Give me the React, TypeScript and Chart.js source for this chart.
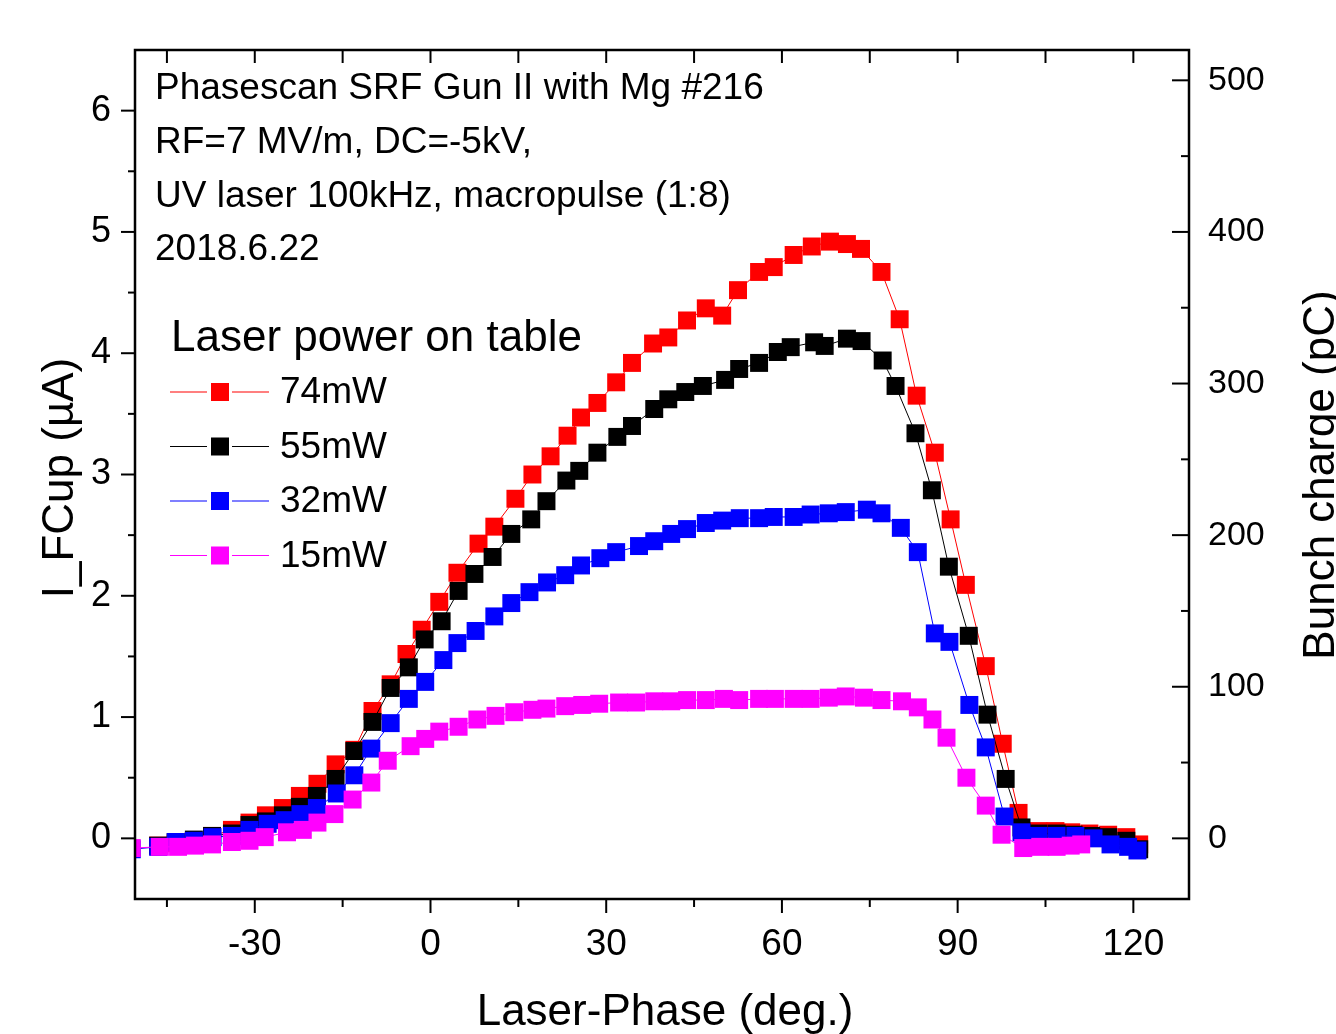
import React, { useEffect, useRef } from 'react';
import { Chart, registerables } from 'chart.js';
Chart.register(...registerables);

// ---- data (Laser phase in deg, I_FCup in µA) ----
const PHASE_74 = [-46.5,-43.5,-40.4,-37.3,-33.9,-30.9,-28.1,-25.2,-22.3,-19.3,-16.2,-13.0,-9.9,-6.8,-4.1,-1.5,1.5,4.6,8.2,10.9,14.5,17.4,20.5,23.4,25.7,28.5,31.7,34.4,38.0,40.6,43.8,47.0,49.8,52.5,56.1,58.6,62.0,65.1,68.2,71.1,73.5,77.0,80.1,83.0,86.1,88.8,91.4,94.8,97.7,100.4,103.8,106.7,109.4,112.5,115.7,118.8,121.0];
const CURRENT_74 = [-0.06,-0.04,-0.02,0.02,0.07,0.13,0.19,0.25,0.35,0.45,0.61,0.73,1.05,1.27,1.52,1.72,1.95,2.19,2.43,2.57,2.80,3.00,3.15,3.32,3.47,3.59,3.76,3.92,4.08,4.13,4.27,4.37,4.31,4.52,4.67,4.71,4.81,4.88,4.92,4.90,4.86,4.67,4.28,3.65,3.18,2.63,2.09,1.42,0.78,0.21,0.06,0.06,0.05,0.04,0.03,0.01,-0.05];

const PHASE_55 = [-46.5,-43.5,-40.4,-37.3,-33.9,-30.9,-28.1,-25.2,-22.3,-19.4,-16.2,-13.0,-9.9,-6.8,-3.7,-1.0,1.9,4.8,7.5,10.6,13.8,17.2,19.8,23.2,25.4,28.5,31.9,34.4,38.2,40.6,43.5,46.5,50.3,52.7,56.1,59.3,61.5,65.5,67.3,71.1,73.6,77.2,79.4,82.8,85.6,88.5,91.9,95.1,98.2,100.9,103.8,106.9,109.8,112.8,115.7,118.8,121.0];
const CURRENT_55 = [-0.06,-0.03,-0.01,0.02,0.04,0.11,0.14,0.19,0.26,0.35,0.49,0.72,0.96,1.24,1.41,1.64,1.79,2.04,2.18,2.32,2.51,2.63,2.78,2.95,3.03,3.18,3.31,3.40,3.54,3.62,3.68,3.73,3.78,3.87,3.92,4.01,4.05,4.09,4.06,4.12,4.10,3.94,3.73,3.34,2.87,2.24,1.67,1.02,0.49,0.09,0.04,0.04,0.03,0.02,0.01,-0.02,-0.09];

const PHASE_32 = [-51.0,-46.5,-43.5,-40.4,-37.2,-33.9,-30.9,-27.8,-24.9,-22.2,-19.4,-16.0,-13.0,-10.1,-6.8,-3.7,-0.9,2.2,4.6,7.7,10.9,13.8,16.9,19.9,23.0,25.7,29.0,31.7,35.6,38.2,41.1,43.8,47.0,49.8,52.8,56.1,58.6,62.0,64.9,68.0,70.9,74.5,77.0,80.3,83.2,86.1,88.6,92.0,94.8,98.0,100.9,103.8,106.9,110.1,113.2,116.1,119.1,120.7];
const CURRENT_32 = [-0.09,-0.07,-0.03,-0.02,0.01,0.02,0.07,0.12,0.15,0.20,0.25,0.37,0.52,0.74,0.95,1.15,1.29,1.47,1.61,1.71,1.83,1.94,2.03,2.11,2.17,2.25,2.31,2.36,2.41,2.45,2.51,2.55,2.60,2.62,2.64,2.64,2.65,2.65,2.67,2.68,2.69,2.71,2.68,2.56,2.36,1.69,1.62,1.10,0.75,0.18,0.05,0.02,0.02,0.02,0.00,-0.05,-0.07,-0.10];

const PHASE_15 = [-51.0,-46.2,-43.1,-40.2,-37.3,-33.9,-30.9,-28.3,-24.5,-21.8,-19.3,-16.4,-13.3,-10.1,-7.3,-3.4,-0.9,1.5,4.8,8.0,11.1,14.3,17.4,19.8,23.0,25.9,28.8,32.2,35.1,38.2,41.1,43.8,47.0,50.1,52.7,56.1,58.8,62.0,64.9,68.0,70.9,74.0,77.0,80.5,83.2,85.7,88.1,91.5,94.8,97.5,101.2,104.1,106.9,109.3,111.1];
const CURRENT_15 = [-0.08,-0.07,-0.07,-0.06,-0.05,-0.03,-0.02,0.01,0.05,0.07,0.13,0.20,0.32,0.46,0.64,0.76,0.82,0.88,0.92,0.98,1.01,1.04,1.06,1.07,1.09,1.10,1.11,1.12,1.12,1.13,1.13,1.14,1.14,1.15,1.14,1.15,1.15,1.15,1.15,1.16,1.17,1.16,1.14,1.13,1.08,0.98,0.83,0.50,0.27,0.03,-0.08,-0.07,-0.07,-0.06,-0.05];

const SERIES_LABELS = ['74mW', '55mW', '32mW', '15mW'];
const SERIES_COLORS = ['#ff0000', '#000000', '#0000ff', '#ff00ff'];

// ---- axis ticks ----
const X_MAJOR = [-30, 0, 30, 60, 90, 120];
const X_MINOR = [-45, -15, 15, 45, 75, 105];
const Y_MAJOR = [0, 1, 2, 3, 4, 5, 6];
const Y_MINOR = [0.5, 1.5, 2.5, 3.5, 4.5, 5.5];
const Y2_MAJOR = [0, 100, 200, 300, 400, 500];
const Y2_MINOR = [50, 150, 250, 350, 450];

const INFO_LINES = [
  'Phasescan SRF Gun II with Mg #216',
  'RF=7 MV/m, DC=-5kV,',
  'UV laser 100kHz, macropulse (1:8)',
  '2018.6.22',
];
const LEGEND_TITLE = 'Laser power on table';
const X_TITLE = 'Laser-Phase (deg.)';
const Y_TITLE = 'I_FCup (\u00b5A)';
const Y2_TITLE = 'Bunch charge (pC)';

const FONT = '"Liberation Sans", Arial, Helvetica, sans-serif';

const zip = (xs: number[], ys: number[]) => xs.map((x, i) => ({ x, y: ys[i] }));

const originAxes = {
  id: 'originAxes',
  afterDraw(chart: any) {
    const { ctx, chartArea: a, scales } = chart;
    const sx = scales.x, sy = scales.y, sy2 = scales.y2;
    ctx.save();
    ctx.strokeStyle = '#000';
    ctx.fillStyle = '#000';

    // frame
    ctx.lineWidth = 2.5;
    ctx.strokeRect(a.left, a.top, a.right - a.left, a.bottom - a.top);

    ctx.lineWidth = 2;
    const line = (x1: number, y1: number, x2: number, y2: number) => {
      ctx.beginPath(); ctx.moveTo(x1, y1); ctx.lineTo(x2, y2); ctx.stroke();
    };
    // bottom (outward) & top (inward)
    X_MAJOR.forEach(v => { const p = sx.getPixelForValue(v); line(p, a.bottom, p, a.bottom + 14); line(p, a.top, p, a.top + 13); });
    X_MINOR.forEach(v => { const p = sx.getPixelForValue(v); line(p, a.bottom, p, a.bottom + 8); line(p, a.top, p, a.top + 13); });
    // left (outward)
    Y_MAJOR.forEach(v => { const p = sy.getPixelForValue(v); line(a.left - 14, p, a.left, p); });
    Y_MINOR.forEach(v => { const p = sy.getPixelForValue(v); line(a.left - 7, p, a.left, p); });
    // right (inward)
    Y2_MAJOR.forEach(v => { const p = sy2.getPixelForValue(v); line(a.right - 17, p, a.right, p); });
    Y2_MINOR.forEach(v => { const p = sy2.getPixelForValue(v); line(a.right - 8, p, a.right, p); });

    // tick labels
    ctx.font = `37px ${FONT}`;
    ctx.textAlign = 'center'; ctx.textBaseline = 'middle';
    X_MAJOR.forEach(v => ctx.fillText(String(v), sx.getPixelForValue(v), a.bottom + 46));
    ctx.font = `36px ${FONT}`;
    ctx.textAlign = 'right';
    Y_MAJOR.forEach(v => ctx.fillText(String(v), a.left - 24, sy.getPixelForValue(v)));
    ctx.font = `34px ${FONT}`;
    ctx.textAlign = 'left';
    Y2_MAJOR.forEach(v => ctx.fillText(String(v), a.right + 19, sy2.getPixelForValue(v)));

    // axis titles
    ctx.font = `44px ${FONT}`;
    ctx.textAlign = 'center'; ctx.textBaseline = 'alphabetic';
    ctx.fillText(X_TITLE, 665, 1025);
    ctx.save();
    ctx.translate(73, 478);
    ctx.rotate(-Math.PI / 2);
    ctx.fillText(Y_TITLE, 0, 0);
    ctx.restore();
    ctx.save();
    ctx.translate(1334, 475);
    ctx.rotate(-Math.PI / 2);
    ctx.fillText(Y2_TITLE, 0, 0);
    ctx.restore();

    // info text
    ctx.font = `37px ${FONT}`;
    ctx.textAlign = 'left'; ctx.textBaseline = 'middle';
    INFO_LINES.forEach((t, i) => ctx.fillText(t, 155, 89 + i * 53.7));

    // legend
    ctx.font = `44px ${FONT}`;
    ctx.fillText(LEGEND_TITLE, 171, 339);
    ctx.font = `37px ${FONT}`;
    SERIES_LABELS.forEach((lab, i) => {
      const cy = 392 + i * 54.5;
      ctx.strokeStyle = SERIES_COLORS[i];
      ctx.lineWidth = 1.2;
      line(170, cy, 207, cy);
      line(232, cy, 269, cy);
      ctx.fillStyle = SERIES_COLORS[i];
      ctx.fillRect(211, cy - 9, 18, 18);
      ctx.fillStyle = '#000';
      ctx.fillText(lab, 280, cy + 1);
    });
    ctx.restore();
  },
};

export default function App() {
  const ref = useRef<HTMLCanvasElement | null>(null);
  useEffect(() => {
    if (!ref.current) return;
    const mk = (i: number, xs: number[], ys: number[], order: number) => ({
      label: SERIES_LABELS[i],
      data: zip(xs, ys),
      showLine: true,
      borderColor: SERIES_COLORS[i],
      backgroundColor: SERIES_COLORS[i],
      borderWidth: 1,
      pointStyle: 'rect',
      pointRadius: 12.7,
      pointHoverRadius: 12.7,
      pointBorderWidth: 0,
      pointBackgroundColor: SERIES_COLORS[i],
      order,
    });
    const chart = new Chart(ref.current, {
      type: 'scatter',
      data: {
        datasets: [
          mk(0, PHASE_74, CURRENT_74, 3),
          mk(1, PHASE_55, CURRENT_55, 2),
          mk(2, PHASE_32, CURRENT_32, 1),
          mk(3, PHASE_15, CURRENT_15, 0),
        ] as any,
      },
      options: {
        animation: false,
        responsive: false,
        devicePixelRatio: 1,
        layout: { padding: { left: 135, right: 147, top: 50, bottom: 135 } },
        plugins: { legend: { display: false }, tooltip: { enabled: false } },
        scales: {
          x: { type: 'linear', min: -50.45, max: 129.5, display: false },
          y: { type: 'linear', min: -0.5, max: 6.5, display: false },
          y2: { type: 'linear', min: -40, max: 520, display: false, position: 'right' },
        },
      },
      plugins: [originAxes],
    });
    return () => chart.destroy();
  }, []);
  return (
    <div style={{ position: 'absolute', left: 0, top: 0, width: 1336, height: 1034, background: '#fff' }}>
      <canvas ref={ref} width={1336} height={1034} style={{ width: 1336, height: 1034, display: 'block' }} />
    </div>
  );
}
